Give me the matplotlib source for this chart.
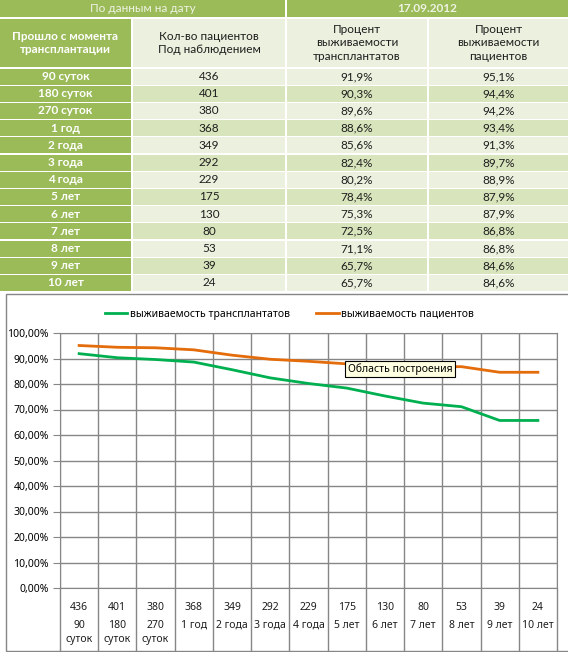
import numpy as np
import matplotlib
matplotlib.use("Agg")
import matplotlib.pyplot as plt
from matplotlib.patches import Rectangle

# ---- data ----
report_date = "17.09.2012"
periods = ["90 суток", "180 суток", "270 суток", "1 год", "2 года", "3 года", "4 года",
           "5 лет", "6 лет", "7 лет", "8 лет", "9 лет", "10 лет"]
period_ticks = ["90\nсуток", "180\nсуток", "270\nсуток", "1 год", "2 года", "3 года", "4 года",
                "5 лет", "6 лет", "7 лет", "8 лет", "9 лет", "10 лет"]
patients = [436, 401, 380, 368, 349, 292, 229, 175, 130, 80, 53, 39, 24]
graft_surv = [91.9, 90.3, 89.6, 88.6, 85.6, 82.4, 80.2, 78.4, 75.3, 72.5, 71.1, 65.7, 65.7]
patient_surv = [95.1, 94.4, 94.2, 93.4, 91.3, 89.7, 88.9, 87.9, 87.9, 86.8, 86.8, 84.6, 84.6]
headers = ["Прошло с момента\nтрансплантации", "Кол-во пациентов\nПод наблюдением",
           "Процент\nвыживаемости\nтрансплантатов", "Процент\nвыживаемости\nпациентов"]

GREEN = "#9BBB59"
LIGHT = "#EBF1DE"
MID = "#D8E4BC"
TXT = "#1E1E1E"
GRID = "#868686"
TFONT = "Lato"
CFONT = "Noto Sans"

W, H = 568, 652
fig = plt.figure(figsize=(W / 100, H / 100), dpi=100)
bg = fig.add_axes([0, 0, 1, 1])
bg.set_xlim(0, W)
bg.set_ylim(H, 0)
bg.axis("off")


def cell(x0, x1, y0, y1, fill, text="", **kw):
    bg.add_patch(Rectangle((x0, y0), x1 - x0, y1 - y0, fc=fill, ec="none"))
    if text:
        bg.text((x0 + x1) / 2, (y0 + y1) / 2, text, ha="center", va="center",
                family=TFONT, fontsize=8.5, linespacing=1.25, **kw)


def pct(v):
    return f"{v:.1f}%".replace(".", ",")


# ---- table ----
cols = [(0, 131), (133, 285), (287, 427), (429, 568)]
cell(0, 285, 0, 17, GREEN, "По данным на дату", color="#EEF3E2")
cell(287, 568, 0, 17, GREEN, report_date, color="#EEF3E2", fontweight="bold")

for j, (x0, x1) in enumerate(cols):
    if j == 0:
        cell(x0, x1, 19, 67, GREEN, headers[j], color="white", fontweight="bold")
    else:
        cell(x0, x1, 19, 67, LIGHT, headers[j], color=TXT)

row_h = 17.2
for i, p in enumerate(periods):
    y0 = 68.5 + i * row_h
    y1 = y0 + row_h - 1.2
    shade = LIGHT if i % 2 == 0 else MID
    vals = [str(patients[i]), pct(graft_surv[i]), pct(patient_surv[i])]
    cell(*cols[0], y0, y1, GREEN, p, color="white", fontweight="bold")
    for j in range(3):
        cell(*cols[j + 1], y0, y1, shade, vals[j], color=TXT)

# ---- chart ----
bg.add_patch(Rectangle((6, 294), 570, 357, fc="white", ec=GRID, lw=1))

top, bot, left, right = 333, 588, 60, 557
ax = fig.add_axes([left / W, (H - bot) / H, (right - left) / W, (bot - top) / H])
ax.set_facecolor("none")
x = np.arange(len(periods))
ax.plot(x, graft_surv, color="#00B050", lw=2, label="выживаемость трансплантатов")
ax.plot(x, patient_surv, color="#E46C0A", lw=2, label="выживаемость пациентов")
ax.set_xlim(-0.5, len(periods) - 0.5)
ax.set_ylim(0, 100)
yt = np.arange(0, 101, 10)
ax.set_yticks(yt)
ax.set_yticklabels([f"{v:.2f}%".replace(".", ",") for v in yt], family=CFONT, fontsize=7.5)
ax.set_xticks(np.arange(-0.5, len(periods), 1))
ax.set_xticklabels([])
ax.tick_params(axis="x", length=0)
ax.tick_params(axis="y", length=5, color=GRID, pad=3)
ax.grid(color=GRID, lw=1)
ax.set_axisbelow(True)
for s in ax.spines.values():
    s.set_color(GRID)

# data table under the plot
ppu = (bot - top) / 100.0
tb_bottom = -(651 - bot) / ppu
ax.vlines(np.arange(-0.5, len(periods), 1), tb_bottom, 0, colors=GRID, lw=1, clip_on=False)
for i in range(len(periods)):
    ax.text(i, -(607 - bot) / ppu, str(patients[i]), ha="center", va="center",
            family=CFONT, fontsize=7.5, color=TXT, clip_on=False)
    ax.text(i, -(620 - bot) / ppu, period_ticks[i], ha="center", va="top",
            family=CFONT, fontsize=7.5, color=TXT, linespacing=1.35, clip_on=False)

ax.legend(loc="center", bbox_to_anchor=(289 / W, 1 - 314 / H), bbox_transform=fig.transFigure,
          ncol=2, frameon=False, prop={"family": CFONT, "size": 7.5},
          handlelength=2.2, handletextpad=0.2, columnspacing=2.5)

fig.text(400 / W, 1 - 369 / H, "Область построения", ha="center", va="center",
         family=CFONT, fontsize=7.5, color="black", zorder=10,
         bbox=dict(fc="#FFFFE1", ec="black", lw=0.8, boxstyle="square,pad=0.25"))

fig.savefig("out.png", dpi=100)
